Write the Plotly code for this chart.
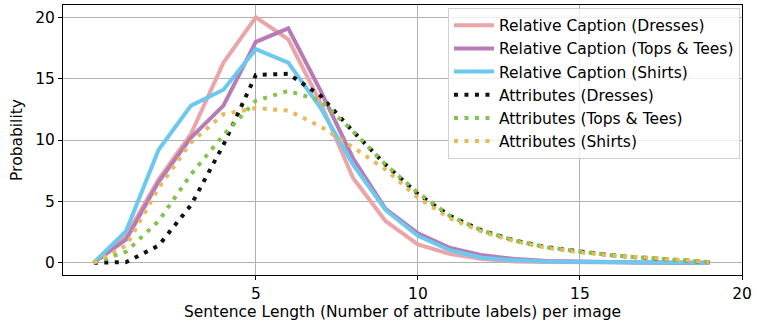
import plotly.graph_objects as go

x = list(range(20))

rel_dresses = [0, 2.2, 6.8, 10.5, 16.3, 20.0, 18.2, 13.0, 6.9, 3.4, 1.5, 0.7, 0.3, 0.1, 0.05, 0.02, 0.0, 0.0, 0.0, 0.0]
rel_tops = [0, 1.9, 6.6, 10.2, 12.8, 18.0, 19.1, 14.0, 8.5, 4.4, 2.4, 1.2, 0.6, 0.3, 0.15, 0.08, 0.05, 0.02, 0.0, 0.0]
rel_shirts = [0, 2.6, 9.2, 12.8, 14.1, 17.4, 16.3, 12.6, 8.0, 4.3, 2.2, 1.0, 0.4, 0.2, 0.1, 0.05, 0.03, 0.02, 0.01, 0.0]
att_dresses = [0, 0.05, 1.4, 4.7, 9.6, 15.3, 15.4, 13.6, 10.7, 8.0, 5.6, 3.8, 2.6, 1.8, 1.25, 0.9, 0.6, 0.4, 0.2, 0.05]
att_tops = [0, 0.9, 3.4, 7.2, 10.4, 13.2, 14.0, 13.2, 10.7, 8.0, 5.7, 3.8, 2.6, 1.8, 1.25, 0.9, 0.6, 0.4, 0.2, 0.05]
att_shirts = [0, 1.4, 6.1, 9.8, 12.1, 12.6, 12.4, 11.1, 9.4, 7.6, 5.3, 3.6, 2.5, 1.75, 1.2, 0.85, 0.6, 0.4, 0.2, 0.05]

series = [
    ("Relative Caption (Dresses)", rel_dresses, "#EBA4A7", "solid"),
    ("Relative Caption (Tops & Tees)", rel_tops, "#B77BB5", "solid"),
    ("Relative Caption (Shirts)", rel_shirts, "#6CC8EF", "solid"),
    ("Attributes (Dresses)", att_dresses, "#111111", "4px,6.5px"),
    ("Attributes (Tops & Tees)", att_tops, "#84C44E", "4px,6.5px"),
    ("Attributes (Shirts)", att_shirts, "#E7B85C", "4px,6.5px"),
]

fig = go.Figure()
for name, y, color, dash in series:
    fig.add_trace(go.Scatter(x=x, y=y, mode="lines", name=name,
                             line=dict(color=color, width=4, dash=dash)))

font = dict(family="DejaVu Sans", size=15.5, color="#000")
fig.update_layout(
    width=758, height=327,
    margin=dict(l=63, r=16, t=5, b=52),
    paper_bgcolor="white", plot_bgcolor="white",
    font=font,
    showlegend=True,
    legend=dict(x=0.997, y=0.99, xanchor="right", yanchor="top",
                bgcolor="rgba(255,255,255,0.8)", bordercolor="#d0d0d0", borderwidth=1,
                font=dict(family="DejaVu Sans", size=15.5, color="#000"),
                itemwidth=40),
    xaxis=dict(range=[-0.95, 20], tickvals=[5, 10, 15, 20],
               showgrid=True, gridcolor="#b0b0b0", gridwidth=1,
               showline=True, linecolor="#000", linewidth=1, mirror=True,
               ticks="outside", ticklen=4, tickcolor="#000",
               zeroline=False,
               title=dict(text="Sentence Length (Number of attribute labels) per image",
                          font=font, standoff=4)),
    yaxis=dict(range=[-1, 21], tickvals=[0, 5, 10, 15, 20],
               showgrid=True, gridcolor="#b0b0b0", gridwidth=1,
               showline=True, linecolor="#000", linewidth=1, mirror=True,
               ticks="outside", ticklen=4, tickcolor="#000",
               zeroline=False,
               title=dict(text="Probability", font=font, standoff=8)),
)

fig.write_html("out.html")
